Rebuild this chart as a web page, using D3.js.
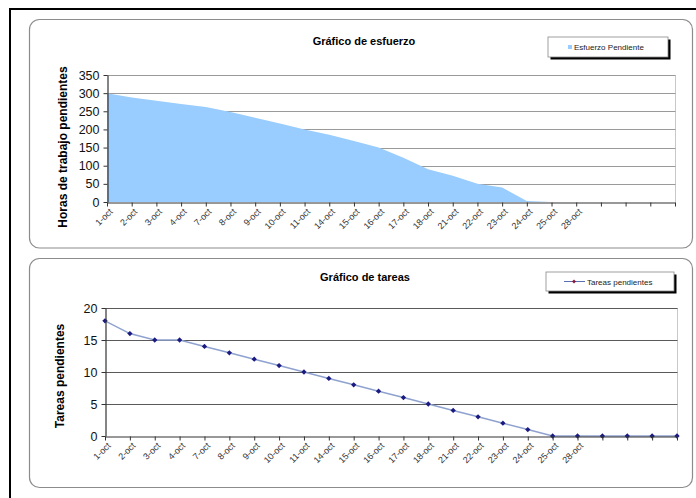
<!DOCTYPE html>
<html><head><meta charset="utf-8">
<script src="https://cdn.jsdelivr.net/npm/d3@7"></script>
<style>
html,body{margin:0;padding:0;background:#fff;}
svg{display:block;font-family:"Liberation Sans",Arial,sans-serif;}
</style></head>
<body>
<svg id="c" width="696" height="498"></svg>
<script>
const categories = ["1-oct","2-oct","3-oct","4-oct","7-oct","8-oct","9-oct","10-oct","11-oct","14-oct","15-oct","16-oct","17-oct","18-oct","21-oct","22-oct","23-oct","24-oct","25-oct","28-oct","","","",""];
const esfuerzoPendiente = [300,288,279,270,262,248,232,216,200,185,168,150,122,90,72,50,40,3,0,null,null,null,null,null];
const tareasPendientes = [18,16,15,15,14,13,12,11,10,9,8,7,6,5,4,3,2,1,0,0,0,0,0,0];
const effortTicks = [0,50,100,150,200,250,300,350];
const taskTicks = [0,5,10,15,20];

const svg = d3.select("#c");

// outer black frame
svg.append("rect").attr("x",10).attr("y",9).attr("width",700).attr("height",500)
  .attr("fill","none").attr("stroke","#000").attr("stroke-width",2);

// panels
function panel(y0,y1){
  svg.append("rect").attr("x",29.5).attr("y",y0).attr("width",663).attr("height",y1-y0)
    .attr("rx",10).attr("ry",10).attr("fill","#fff").attr("stroke","#8c8c8c").attr("stroke-width",1.2);
}
panel(19.5,248);
panel(258.5,487.5);

function drawChart(cfg){
  const x = d3.scalePoint().domain(d3.range(categories.length)).range([cfg.x0,cfg.x1]).padding(0);
  const y = d3.scaleLinear().domain(cfg.domain).range([cfg.yb,cfg.yt]);
  const g = svg.append("g");
  g.append("line").attr("x1",cfg.x1+0.5).attr("x2",cfg.x1+0.5).attr("y1",cfg.yt).attr("y2",cfg.yb)
    .attr("stroke","#c8c8c8").attr("stroke-width",1);
  g.selectAll(".grid").data(cfg.ticks.filter(t=>t>0)).join("line")
    .attr("x1",cfg.x0).attr("x2",cfg.x1+0.5)
    .attr("y1",d=>Math.round(y(d))+0.5).attr("y2",d=>Math.round(y(d))+0.5)
    .attr("stroke",cfg.gridColor).attr("stroke-width",1);
  cfg.draw(g,x,y);
  const ya = g.append("g").attr("transform",`translate(${cfg.x0+0.5},0)`)
    .call(d3.axisLeft(y).tickValues(cfg.ticks).tickSize(4).tickSizeOuter(0).tickPadding(4));
  ya.select(".domain").attr("stroke","#333").attr("stroke-width",1.2);
  ya.selectAll(".tick line").attr("stroke","#333");
  ya.selectAll(".tick text").attr("font-size","12.5px").attr("fill","#111")
    .attr("font-family","Liberation Sans, Arial, sans-serif");
  const xa = g.append("g").attr("transform",`translate(0,${cfg.yb+0.5})`)
    .call(d3.axisBottom(x).tickSize(4).tickSizeOuter(0).tickFormat(i=>categories[i]));
  xa.select(".domain").attr("stroke","#333").attr("stroke-width",1.2);
  xa.selectAll(".tick line").attr("stroke","#333");
  xa.selectAll(".tick text").attr("font-size","9px").attr("fill","#333")
    .attr("font-family","Liberation Sans, Arial, sans-serif")
    .attr("text-anchor","end").attr("dy","0")
    .attr("transform","translate(4,8) rotate(-45)").attr("y",0).attr("x",0)
    .attr("dominant-baseline","middle");
  svg.append("text").attr("x",cfg.titleX).attr("y",cfg.titleY).attr("text-anchor","middle")
    .attr("font-size","11px").attr("font-weight","bold").attr("fill","#000").text(cfg.title);
  svg.append("text").attr("transform",`translate(${cfg.ylabX},${cfg.ylabY}) rotate(-90)`)
    .attr("text-anchor","middle").attr("font-size","12px").attr("font-weight","bold").attr("fill","#000")
    .text(cfg.ylabel);
}

drawChart({
  x0:107, x1:675, yt:75, yb:202, domain:[0,350], ticks:effortTicks, gridColor:"#9a9a9a",
  title:"Gráfico de esfuerzo", titleX:364, titleY:45,
  ylabel:"Horas de trabajo pendientes", ylabX:67, ylabY:147,
  draw:(g,x,y)=>{
    const area = d3.area().defined(d=>d!=null).x((d,i)=>x(i)).y0(y(0)).y1(d=>y(d));
    g.append("path").datum(esfuerzoPendiente).attr("d",area).attr("fill","#99ccff");
  }
});

drawChart({
  x0:105, x1:677, yt:308, yb:436, domain:[0,20], ticks:taskTicks, gridColor:"#5a5a5a",
  title:"Gráfico de tareas", titleX:365, titleY:281,
  ylabel:"Tareas pendientes", ylabX:64, ylabY:376,
  draw:(g,x,y)=>{
    const line = d3.line().x((d,i)=>x(i)).y(d=>y(d));
    g.append("path").datum(tareasPendientes).attr("d",line).attr("fill","none")
      .attr("stroke","#8fa2cf").attr("stroke-width",1.5);
    g.selectAll(".pt").data(tareasPendientes).join("path")
      .attr("d",d3.symbol(d3.symbolDiamond2 || d3.symbolDiamond,18))
      .attr("transform",(d,i)=>`translate(${x(i)},${y(d)})`)
      .attr("fill","#1a1a80");
  }
});

function legend(x,y,w,h,label,kind){
  svg.append("rect").attr("x",x+2.5).attr("y",y+2.5).attr("width",w).attr("height",h).attr("fill","#000");
  svg.append("rect").attr("x",x).attr("y",y).attr("width",w).attr("height",h)
    .attr("fill","#fff").attr("stroke","#888").attr("stroke-width",0.8);
  if(kind==="area"){
    svg.append("rect").attr("x",x+20).attr("y",y+h/2-2).attr("width",4).attr("height",4).attr("fill","#99ccff");
    svg.append("text").attr("x",x+26).attr("y",y+h/2+3).attr("font-size","8px").attr("fill","#222").text(label);
  } else {
    svg.append("line").attr("x1",x+18).attr("x2",x+39).attr("y1",y+h/2).attr("y2",y+h/2)
      .attr("stroke","#5a6fb0").attr("stroke-width",1);
    svg.append("path").attr("d",d3.symbol(d3.symbolDiamond2 || d3.symbolDiamond,10))
      .attr("transform",`translate(${x+28},${y+h/2})`).attr("fill","#8a1a3a");
    svg.append("text").attr("x",x+41).attr("y",y+h/2+3).attr("font-size","8px").attr("fill","#222").text(label);
  }
}
legend(548,37,120,20,"Esfuerzo Pendiente","area");
legend(546,272,128,19,"Tareas pendientes","line");
</script>
</body></html>
